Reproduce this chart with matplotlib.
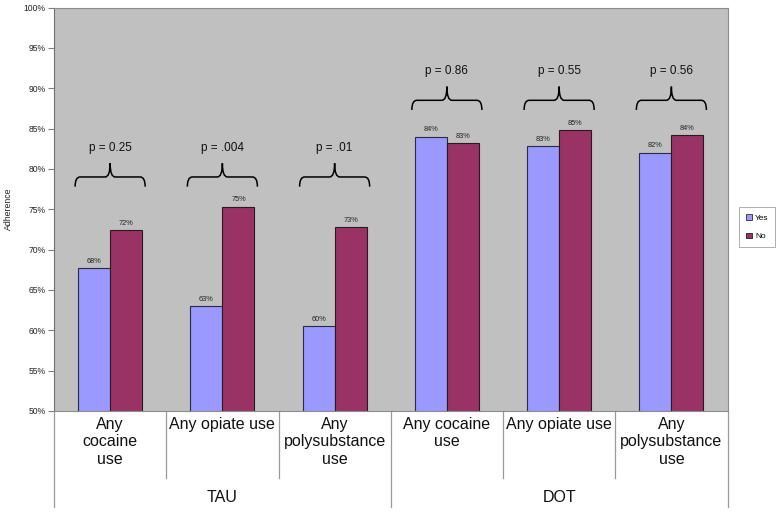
import matplotlib
matplotlib.use("Agg")
import matplotlib.pyplot as plt
from matplotlib.path import Path
from matplotlib.patches import PathPatch
from matplotlib.ticker import FuncFormatter
import numpy as np

plt.rcParams['font.family'] = ['Liberation Sans', 'DejaVu Sans']

categories = ['Any\ncocaine\nuse', 'Any opiate use', 'Any\npolysubstance\nuse',
              'Any cocaine\nuse', 'Any opiate use', 'Any\npolysubstance\nuse']
arms = ['TAU', 'DOT']
yes_vals = [67.7, 63.0, 60.5, 84.0, 82.8, 82.0]
no_vals = [72.4, 75.3, 72.8, 83.2, 84.8, 84.2]
yes_labels = ['68%', '63%', '60%', '84%', '83%', '82%']
no_labels = ['72%', '75%', '73%', '83%', '85%', '84%']
p_values = ['p = 0.25', 'p = .004', 'p = .01', 'p = 0.86', 'p = 0.55', 'p = 0.56']
yticks = [50, 55, 60, 65, 70, 75, 80, 85, 90, 95, 100]

YES_C = '#9999FF'
NO_C = '#993366'

fig = plt.figure(figsize=(7.8, 5.12), dpi=100)
ax = fig.add_axes([54/780, 1-411/512, (727.5-54)/780, (411-7.5)/512])
ax.set_facecolor('#C0C0C0')

x = np.arange(len(categories))
w = 0.286
ax.bar(x - w/2, yes_vals, w, bottom=0, color=YES_C, edgecolor='#2a2a40', linewidth=0.8, label='Yes', zorder=2)
ax.bar(x + w/2, no_vals, w, bottom=0, color=NO_C, edgecolor='#2a1a20', linewidth=0.8, label='No', zorder=2)

for xi, v, s in zip(x - w/2, yes_vals, yes_labels):
    ax.annotate(s, (xi, v), xytext=(0, 2.5), textcoords='offset points', ha='center', va='bottom', fontsize=5.3, color='#222222')
for xi, v, s in zip(x + w/2, no_vals, no_labels):
    ax.annotate(s, (xi, v), xytext=(0, 2.5), textcoords='offset points', ha='center', va='bottom', fontsize=5.3, color='#222222')

ax.set_xlim(-0.5, len(categories) - 0.5)
ax.set_ylim(50, 100)
ax.set_yticks(yticks)
ax.yaxis.set_major_formatter(FuncFormatter(lambda v, p: f'{v:.0f}%'))
ax.tick_params(axis='y', labelsize=6.2, length=4, width=0.8, color='#808080', pad=2, labelcolor='#222222')
ax.set_xticks([])
ax.set_ylabel('Adherence', fontsize=6.3, color='#222222')
ax.yaxis.set_label_coords(-0.061, 0.5)
for sp in ax.spines.values():
    sp.set_color('#8c8c8c')
    sp.set_linewidth(0.8)
ax.spines['left'].set_color('#707070')

# braces
def brace(ax, xc, half, y0, drop, rise, dx=0.045):
    xl, xr = xc - half, xc + half
    y1 = y0 + drop
    y2 = y1 + rise
    verts = [(xl, y0), (xl, y1), (xl + dx, y1), (xc - dx, y1), (xc, y1), (xc, y2),
             (xc, y1), (xc + dx, y1), (xr - dx, y1), (xr, y1), (xr, y0)]
    codes = [Path.MOVETO, Path.CURVE3, Path.CURVE3, Path.LINETO, Path.CURVE3, Path.CURVE3,
             Path.CURVE3, Path.CURVE3, Path.LINETO, Path.CURVE3, Path.CURVE3]
    ax.add_patch(PathPatch(Path(verts, codes), fill=False, lw=1.1, edgecolor='black', zorder=3))
    return y2

n_per_arm = len(categories) // len(arms)
for a in range(len(arms)):
    idx = range(a * n_per_arm, (a + 1) * n_per_arm)
    base = max(max(yes_vals[i], no_vals[i]) for i in idx) + 2.5
    for i in idx:
        tip = brace(ax, x[i], 0.312, base, 1.2, 1.7)
        ax.text(x[i], tip + 1.95, p_values[i], ha='center', va='center', fontsize=8.5, color='#111111')

# category axis below
tr = ax.get_xaxis_transform()
ah = 411 - 7.5
def yfrac(px):
    return (411 - px) / ah

for i, c in enumerate(categories):
    ax.text(x[i], yfrac(417), c, transform=tr, ha='center', va='top', fontsize=11.5,
            linespacing=1.2, color='#111111')
for b in np.arange(-0.5, len(categories), 1.0):
    long = (round(b + 0.5) % n_per_arm == 0)
    ax.plot([b, b], [0, yfrac(507 if long else 478)], transform=tr, color='#9a9a9a', lw=0.9, clip_on=False)
for a, name in enumerate(arms):
    ax.text((a * n_per_arm + (a + 1) * n_per_arm - 1) / 2, yfrac(498), name, transform=tr,
            ha='center', va='center', fontsize=11.5, color='#111111')

leg = fig.legend(loc='upper left', bbox_to_anchor=(735/780, 1 - 203/512), fontsize=6,
                 handlelength=0.7, handleheight=0.7, handletextpad=0.4, borderpad=0.8,
                 labelspacing=1.3, fancybox=False, frameon=True)
leg.get_frame().set_edgecolor('#999999')
leg.get_frame().set_linewidth(0.7)
for h in leg.legend_handles:
    h.set_linewidth(0.6)

fig.savefig('out.png', dpi=100)
